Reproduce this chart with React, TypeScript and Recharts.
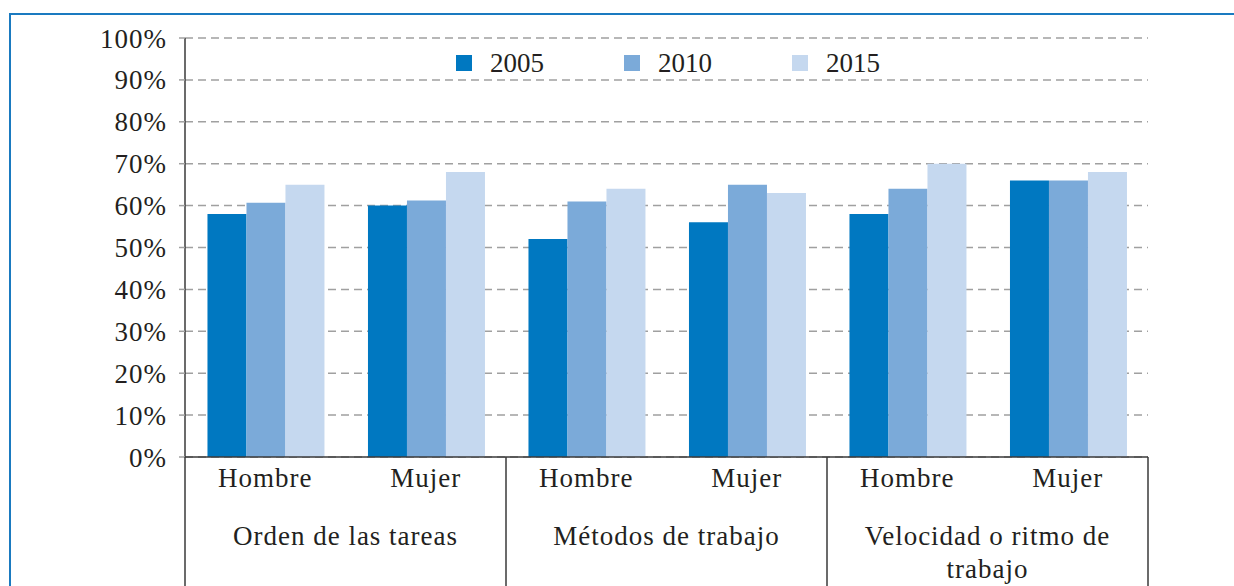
import { BarChart, Bar, XAxis, YAxis, CartesianGrid, Legend } from "recharts";

const sexos = ["Hombre", "Mujer", "Hombre", "Mujer", "Hombre", "Mujer"];
const grupos = ["Orden de las tareas", "Orden de las tareas", "Métodos de trabajo", "Métodos de trabajo", "Velocidad o ritmo de trabajo", "Velocidad o ritmo de trabajo"];
const anios = ["2005", "2010", "2015"];
const valores2005 = [58, 60, 52, 56, 58, 66];
const valores2010 = [60.7, 61.2, 61, 65, 64, 66];
const valores2015 = [65, 68, 64, 63, 70, 68];
const yTicks = [0, 10, 20, 30, 40, 50, 60, 70, 80, 90, 100];

const COLORES = ["#0078c1", "#7baad9", "#c5d8ef"];
const FONT = "'Liberation Serif', serif";
const FONT_SIZE = 27;
const TEXT_COLOR = "#231f20";
const AXIS_COLOR = "#3a3a3a";
const SEXO_AXIS_H = 50;
const GRUPO_AXIS_H = 80;
const LABEL_MAX_W = 262;

const data = sexos.map((s, i) => ({
  sexo: s,
  grupo: grupos[i],
  v2005: valores2005[i],
  v2010: valores2010[i],
  v2015: valores2015[i],
}));

const textStyle = { fontSize: FONT_SIZE, fontFamily: FONT, letterSpacing: 1 };

let ctx: CanvasRenderingContext2D | null = null;
function medir(s: string) {
  if (!ctx) ctx = document.createElement("canvas").getContext("2d");
  if (!ctx) return s.length * FONT_SIZE * 0.45;
  ctx.font = `${FONT_SIZE}px ${FONT}`;
  return ctx.measureText(s).width + s.length;
}

// parte la etiqueta en líneas que caben en el ancho del grupo
function partir(label: string) {
  const lines: string[] = [];
  let cur = "";
  for (const w of label.split(" ")) {
    const next = cur ? cur + " " + w : w;
    if (cur && medir(next) > LABEL_MAX_W) {
      lines.push(cur);
      cur = w;
    } else cur = next;
  }
  if (cur) lines.push(cur);
  return lines;
}

function SexoTick({ x, y, payload }: any) {
  return (
    <text x={x} y={y + 30} textAnchor="middle" fill={TEXT_COLOR} style={textStyle}>
      {payload.value}
    </text>
  );
}

function GrupoTick({ x, y, payload, index, visibleTicksCount }: any) {
  const half = payload.offset ?? 0;
  const top = y - SEXO_AXIS_H;
  const bottom = y + GRUPO_AXIS_H;
  return (
    <g>
      <line x1={x - half} x2={x - half} y1={top} y2={bottom} stroke={AXIS_COLOR} strokeWidth={1.5} />
      {index === visibleTicksCount - 1 && (
        <line x1={x + half} x2={x + half} y1={top} y2={bottom} stroke={AXIS_COLOR} strokeWidth={1.5} />
      )}
      <text x={x} y={y + 38} textAnchor="middle" fill={TEXT_COLOR} style={textStyle}>
        {partir(String(payload.value)).map((l, i) => (
          <tspan key={i} x={x} dy={i === 0 ? 0 : 33}>
            {l}
          </tspan>
        ))}
      </text>
    </g>
  );
}

function LeyendaAnios() {
  return (
    <div style={{ display: "flex", fontFamily: FONT, fontSize: FONT_SIZE, color: TEXT_COLOR, lineHeight: "30px" }}>
      {anios.map((a, i) => (
        <div key={a} style={{ width: 168, display: "flex", alignItems: "center" }}>
          <span style={{ width: 16, height: 16, background: COLORES[i], marginRight: 18, display: "inline-block" }} />
          {a}
        </div>
      ))}
    </div>
  );
}

export default function App() {
  return (
    <div style={{ position: "absolute", left: 0, top: 0, width: 1234, height: 586, background: "#fff", overflow: "hidden" }}>
      <div
        style={{
          position: "absolute",
          left: 9,
          top: 13,
          width: 1240,
          height: 600,
          borderTop: "2px solid #1a7ac0",
          borderLeft: "2px solid #1a7ac0",
        }}
      />
      <BarChart
        width={1234}
        height={586}
        data={data}
        margin={{ top: 38, right: 86, left: 0, bottom: -1 }}
        barCategoryGap="14%"
        barGap={0}
        style={{ position: "absolute", left: 0, top: 0 }}
      >
        <CartesianGrid vertical={false} stroke="#a0a0a0" strokeWidth={1.5} strokeDasharray="8 5" />
        <XAxis
          dataKey="sexo"
          interval={0}
          height={SEXO_AXIS_H}
          axisLine={{ stroke: AXIS_COLOR, strokeWidth: 1.5 }}
          tickLine={false}
          tickSize={0}
          tickMargin={0}
          tick={<SexoTick />}
        />
        <XAxis
          xAxisId="grupo"
          dataKey="grupo"
          allowDuplicatedCategory={false}
          interval={0}
          height={GRUPO_AXIS_H}
          axisLine={false}
          tickLine={false}
          tickSize={0}
          tickMargin={0}
          tick={<GrupoTick />}
        />
        <YAxis
          width={185}
          domain={[0, 100]}
          ticks={yTicks}
          interval={0}
          tickFormatter={(v: number) => `${v}%`}
          axisLine={{ stroke: AXIS_COLOR, strokeWidth: 1.5 }}
          tickLine={{ stroke: "#a0a0a0", strokeWidth: 1.5 }}
          tickSize={6}
          tickMargin={12}
          tick={{ fill: TEXT_COLOR, style: textStyle }}
        />
        <Legend verticalAlign="middle" wrapperStyle={{ top: 48, left: 456, width: 520 }} content={<LeyendaAnios />} />
        <Bar dataKey="v2005" name="2005" fill={COLORES[0]} isAnimationActive={false} />
        <Bar dataKey="v2010" name="2010" fill={COLORES[1]} isAnimationActive={false} />
        <Bar dataKey="v2015" name="2015" fill={COLORES[2]} isAnimationActive={false} />
      </BarChart>
    </div>
  );
}
